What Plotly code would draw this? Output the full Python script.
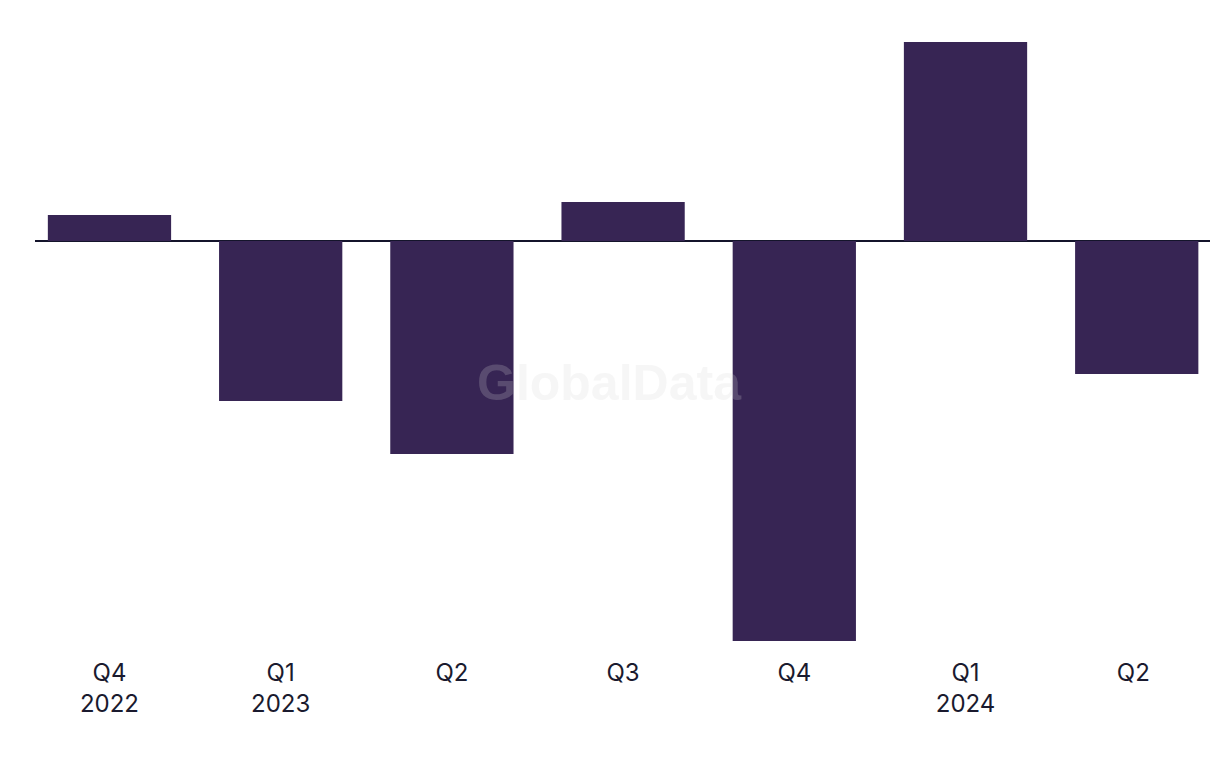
import plotly.graph_objects as go

categories = ["Q4<br>2022", "Q1<br>2023", "Q2", "Q3", "Q4", "Q1<br>2024", "Q2 "]
values = [0.26, -1.60, -2.13, 0.39, -4.00, 1.99, -1.33]

bar_color = "#372554"

fig = go.Figure()
fig.add_trace(go.Bar(
    x=list(range(len(categories))),
    y=values,
    marker=dict(color=bar_color, line=dict(width=0)),
    width=0.72,
    hoverinfo="skip",
))

fig.update_layout(
    width=1220, height=768,
    margin=dict(l=27, r=18, t=22, b=126),
    paper_bgcolor="white",
    plot_bgcolor="white",
    showlegend=False,
    font=dict(family="Inter, Roboto, sans-serif", color="#1a1a2e"),
    xaxis=dict(
        tickmode="array",
        tickvals=list(range(len(categories))),
        ticktext=categories,
        range=[-0.435, 6.428],
        showgrid=False, zeroline=False, showline=False,
        ticks="", ticklabelstandoff=6,
        tickfont=dict(size=24, color="#1a1a2e"),
    ),
    yaxis=dict(
        range=[-4.09, 2.11],
        showgrid=False, showticklabels=False, ticks="",
        zeroline=True, zerolinecolor="#14142b", zerolinewidth=2,
        showline=False,
    ),
    annotations=[dict(
        text="<b>GlobalData</b>", x=0.489, y=0.431, xref="paper", yref="paper",
        showarrow=False,
        font=dict(family="Liberation Sans, Arial, sans-serif", size=50,
                  color="rgba(215,215,215,0.22)"),
    )],
)

fig.write_html("out.html")
